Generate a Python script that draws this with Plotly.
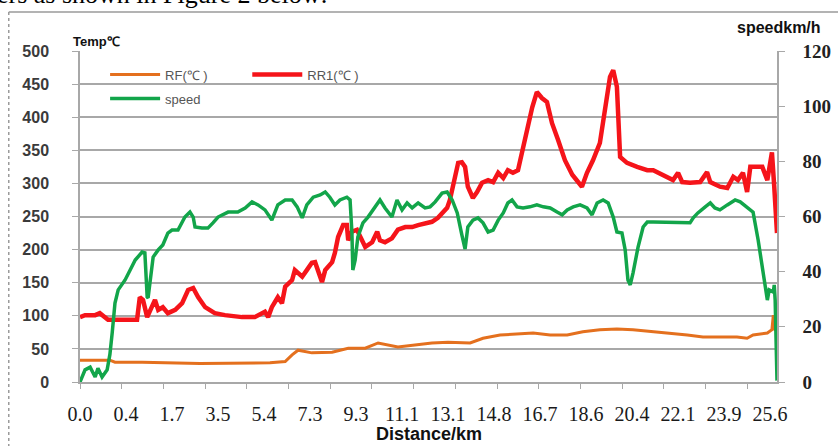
import plotly.graph_objects as go

# ---- data (sample index along distance; labels every 100 samples) ----
tick_labels = ["0.0", "0.4", "1.7", "3.5", "5.4", "7.3", "9.3", "11.1", "13.1",
               "14.8", "16.7", "18.6", "20.4", "22.1", "23.9", "25.6"]
tick_samples = [0, 100, 200, 300, 400, 500, 600, 700, 800, 900, 1000, 1100, 1200, 1300, 1400, 1500]

rf_x = [0, 65, 76, 135, 261, 413, 446, 461, 474, 504, 548, 583, 620, 648, 691, 728, 765, 800,
        848, 876, 913, 985, 1022, 1059, 1093, 1130, 1167, 1202, 1246, 1283, 1320, 1354, 1391,
        1428, 1450, 1463, 1494, 1504, 1507, 1509, 1513]
rf_y = [33, 33, 30, 30, 28, 29, 31, 41, 48, 44, 45, 51, 51, 59, 53, 56, 59, 60,
        59, 66, 71, 74, 71, 71, 76, 79, 80, 79, 76, 74, 71, 68, 68,
        68, 66, 71, 74, 79, 101, 80, 78]

rr1_x = [0, 11, 33, 43, 61, 83, 98, 124, 130, 137, 146, 152, 163, 170, 180, 191, 207, 222, 235,
         246, 257, 272, 293, 315, 352, 380, 402, 409, 417, 430, 439, 446, 461, 467, 474, 483,
         493, 504, 511, 522, 526, 533, 548, 554, 561, 572, 580, 583, 591, 602, 613, 620, 635,
         646, 652, 663, 678, 691, 707, 722, 735, 750, 765, 778, 789, 798, 804, 815, 822, 830,
         837, 843, 854, 863, 874, 887, 898, 909, 920, 930, 941, 952, 961, 972, 983, 993, 1004,
         1015, 1026, 1039, 1054, 1070, 1083, 1091, 1102, 1115, 1130, 1141, 1152, 1159, 1167,
         1174, 1189, 1211, 1233, 1246, 1267, 1289, 1300, 1309, 1326, 1348, 1363, 1370, 1391,
         1407, 1420, 1430, 1441, 1450, 1457, 1472, 1483, 1494, 1504, 1509, 1513, 1515]
rr1_y = [98, 101, 101, 104, 94, 94, 94, 94, 128, 124, 98, 106, 124, 109, 113, 104, 109, 119, 139,
         142, 128, 113, 104, 101, 98, 98, 106, 98, 113, 128, 119, 144, 154, 169, 165, 159,
         169, 180, 181, 157, 151, 169, 181, 195, 219, 237, 237, 214, 227, 230, 214, 204, 211,
         227, 214, 211, 217, 230, 234, 234, 237, 240, 242, 248, 255, 263, 275, 310, 331, 332,
         325, 295, 278, 287, 301, 305, 302, 316, 308, 320, 316, 320, 346, 385, 415, 438, 429,
         423, 391, 366, 335, 313, 302, 295, 316, 335, 361, 411, 461, 471, 446,
         340, 331, 325, 320, 320, 313, 305, 316, 302, 301, 302, 317, 302, 295,
         293, 310, 305, 316, 287, 325, 325, 325, 305, 347, 295, 260, 225]

speed_x = [0, 11, 22, 33, 39, 48, 59, 65, 70, 76, 83, 98, 109, 120, 135, 141, 146, 148, 159, 170,
           180, 191, 200, 213, 228, 239, 246, 250, 265, 278, 289, 300, 322, 343, 359, 374, 387,
           402, 417, 430, 446, 461, 472, 483, 493, 507, 522, 533, 543, 554, 565, 580, 587, 591,
           593, 598, 604, 615, 626, 641, 652, 663, 678, 689, 700, 711, 722, 735, 750, 761, 772,
           787, 798, 809, 820, 830, 837, 843, 854, 865, 876, 887, 898, 909, 920, 930, 939, 950,
           963, 978, 993, 1007, 1022, 1037, 1048, 1059, 1072, 1087, 1102, 1113, 1124, 1137, 1148,
           1159, 1167, 1178, 1185, 1191, 1196, 1202, 1213, 1224, 1233, 1246, 1283, 1326, 1333,
           1343, 1359, 1370, 1380, 1391, 1407, 1424, 1435, 1450, 1463, 1474, 1483, 1489, 1494,
           1498, 1507, 1509, 1511, 1515]
speed_y = [0, 4.4, 5.4, 1.8, 5, 1.8, 4.4, 10, 17.8, 28.6, 33.4, 37, 40.6, 44.2, 47.1, 46.8, 30.8,
           30.5, 45.3, 47.9, 49.7, 54, 55.1, 55.1, 59.8, 61.6, 59.8, 56.2, 55.8, 55.8, 57.7, 59.8,
           61.6, 61.6, 63.1, 65.3, 64.2, 62.4, 58.7, 64.2, 66, 66, 63.5, 59.5, 64.2, 67, 67.8,
           68.9, 67, 64.2, 66, 67, 66, 54.4, 40.6, 44.2, 52.6, 57.7, 59.8, 63.5, 66, 63.1, 59.8,
           66, 62.4, 64.9, 63.1, 64.9, 63.1, 63.5, 65.3, 68.5, 68.9, 66, 61.3, 53.3, 48.2, 56.2,
           58.7, 59.5, 57.7, 54.4, 55.1, 58.7, 61.3, 64.9, 66, 63.5, 63.1, 63.5, 64.2, 63.5,
           63.1, 61.6, 60.6, 62.4, 63.5, 64.2, 63.1, 60.6, 64.9, 66, 64.9, 59.8, 54.4, 54, 47.9,
           37, 35.2, 39.5, 48.9, 56.2, 58, 58, 58, 57.7, 59.5, 61.3, 63.5, 64.9, 63.1, 62.4,
           64.2, 66, 65.3, 63.1, 61.6, 51.5, 41.7, 34.4, 29.7, 33.4, 32.6, 35.2, 29.7, 0.5]

ORANGE = "#E4701E"
RED = "#F5141A"
GREEN = "#12A54A"
GRID = "#A8A8A8"

fig = go.Figure()
fig.add_trace(go.Scatter(x=rf_x, y=rf_y, mode="lines", name="RF(℃ )",
                         line=dict(color=ORANGE, width=3), legend="legend"))
fig.add_trace(go.Scatter(x=rr1_x, y=rr1_y, mode="lines", name="RR1(℃ )",
                         line=dict(color=RED, width=4.5), legend="legend2"))
fig.add_trace(go.Scatter(x=speed_x, y=speed_y, mode="lines", name="speed",
                         line=dict(color=GREEN, width=3.5), yaxis="y2", legend="legend3"))

leg_common = dict(bgcolor="rgba(0,0,0,0)", borderwidth=0, xanchor="left", yanchor="middle",
                  font=dict(family="Liberation Sans", size=13, color="#555555"), itemwidth=50)

fig.update_layout(
    width=838, height=446,
    margin=dict(l=80, r=61, t=51, b=64, autoexpand=False),
    paper_bgcolor="white", plot_bgcolor="white",
    xaxis=dict(range=[0, 1515], tickvals=tick_samples, ticktext=tick_labels,
               ticks="", showgrid=False, showline=True, linecolor=GRID, linewidth=1.5,
               zeroline=False, automargin=False,
               tickfont=dict(family="Liberation Serif", size=20, color="#1a1a1a"),
               ticklabelstandoff=13,
               minor=dict(ticks="outside", tick0=0, dtick=90.65, ticklen=5,
                          tickcolor=GRID, tickwidth=1.2, showgrid=False)),
    yaxis=dict(range=[0, 500], dtick=50, showgrid=True, gridcolor=GRID, gridwidth=1.5,
               showline=True, linecolor=GRID, linewidth=1.5, zeroline=False,
               ticks="outside", ticklen=6, tickcolor=GRID, automargin=False,
               ticklabelstandoff=20,
               tickfont=dict(family="Liberation Sans", size=16, color="#3a3a3a", weight="bold")),
    yaxis2=dict(range=[0, 120], dtick=20, overlaying="y", side="right", showgrid=False,
                showline=True, linecolor=GRID, linewidth=1.5, zeroline=False,
                ticks="outside", ticklen=6, tickcolor=GRID, automargin=False,
                ticklabelstandoff=14,
                tickfont=dict(family="Liberation Serif", size=19, color="#222222", weight="bold")),
    legend=dict(x=0.036, y=0.929, **leg_common),
    legend2=dict(x=0.24, y=0.929, **leg_common),
    legend3=dict(x=0.036, y=0.856, **leg_common),
    showlegend=True,
)

# x-axis title, placed tight under the tick labels as in the reference
fig.add_annotation(text="<b>Distance/km</b>", xref="paper", yref="paper", x=0.5, y=-0.158,
                   xanchor="center", yanchor="middle", showarrow=False,
                   font=dict(family="Liberation Sans", size=18, color="#111111"))
fig.add_annotation(text="<b>Temp℃</b>", xref="paper", yref="paper", x=-0.013, y=1.0,
                   xanchor="left", yanchor="bottom", showarrow=False,
                   font=dict(family="Liberation Sans", size=13, color="#111111"))
fig.add_annotation(text="<b>speedkm/h</b>", xref="paper", yref="paper", x=0.94, y=1.04,
                   xanchor="left", yanchor="bottom", showarrow=False,
                   font=dict(family="Liberation Sans", size=16, color="#111111"))
fig.add_annotation(text="ers as shown in Figure 2 below:", xref="paper", yref="paper",
                   x=-0.122, y=1.12, xanchor="left", yanchor="bottom", showarrow=False,
                   font=dict(family="Liberation Serif", size=26, color="#000000"))

# page frame of the document figure
fig.add_shape(type="line", xref="paper", yref="paper", x0=-0.1022, x1=1.09, y0=1.118, y1=1.118,
              line=dict(color="#9a9a9a", width=1.5))
fig.add_shape(type="line", xref="paper", yref="paper", x0=-0.1022, x1=-0.1022, y0=1.118, y1=-0.2,
              line=dict(color="#9a9a9a", width=1.5, dash="dot"))

fig.write_html("out.html", config={"displayModeBar": False},
               post_script="document.body.style.margin='0';document.body.style.overflow='hidden';")
